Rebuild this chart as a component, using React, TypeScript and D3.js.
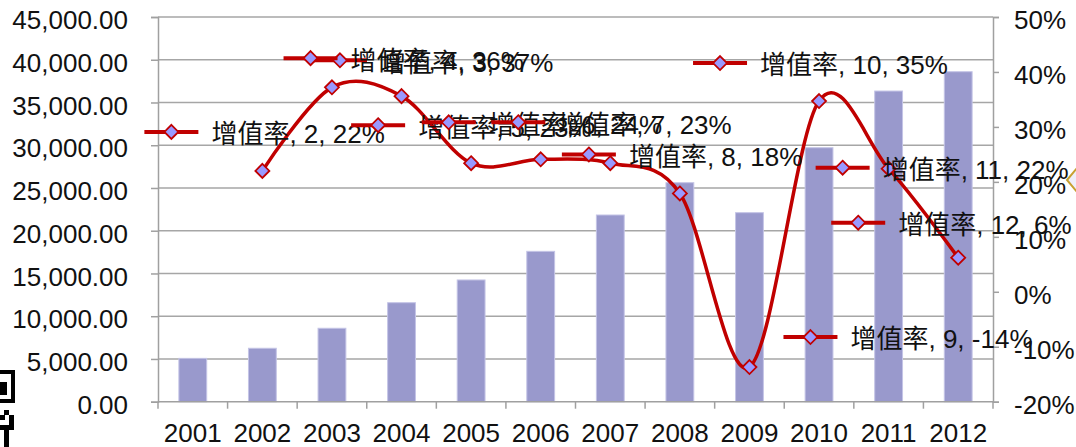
import { useEffect, useRef } from "react";
import * as d3 from "d3";

const years = ["2001", "2002", "2003", "2004", "2005", "2006", "2007", "2008", "2009", "2010", "2011", "2012"];
const outputValue = [5070, 6250, 8590, 11580, 14240, 17590, 21840, 25620, 22110, 29710, 36340, 38600];
const growthRate: (number | null)[] = [null, 22.0, 37.2, 35.6, 23.4, 24.1, 23.4, 17.9, -13.7, 34.7, 22.4, 6.2];
const leftTicks = [0, 5000, 10000, 15000, 20000, 25000, 30000, 35000, 40000, 45000];
const rightTicks = [-20, -10, 0, 10, 20, 30, 40, 50];
const seriesName = "增值率";

// where each data label was dragged to, relative to its point (px)
const labelOffsets: ({ dx: number; dy: number } | null)[] = [
  null,
  { dx: -91, dy: -39 },
  { dx: 8, dy: -27 },
  { dx: -91, dy: -38 },
  { dx: -93, dy: -38 },
  { dx: -92, dy: -37 },
  { dx: -92, dy: -41 },
  { dx: -91, dy: -39 },
  { dx: 61, dy: -30 },
  { dx: -99, dy: -38 },
  { dx: -46, dy: -1 },
  { dx: -100, dy: -35 }
];

const W = 1076;
const H = 447;
const FONT = "'Liberation Sans', Arial, 'Noto Sans CJK SC', sans-serif";
const RED = "#c00000";

export default function App() {
  const ref = useRef<SVGSVGElement | null>(null);

  useEffect(() => {
    if (!ref.current) return;
    const svg = d3.select(ref.current);
    svg.selectAll("*").remove();

    const left = 158, right = 993, top = 17, bottom = 401.7;

    const x = d3.scaleBand().domain(years).range([left, right]).paddingInner(0.6).paddingOuter(0.3);
    const step = x.step();
    const cx = (y: string) => (x(y) || 0) + x.bandwidth() / 2;
    const yL = d3.scaleLinear().domain([0, 45000]).range([bottom, top]);
    const yR = d3.scaleLinear().domain([-20, 50]).range([bottom, top]);

    // gridlines
    svg.append("g")
      .selectAll("line")
      .data(leftTicks.filter(t => t > 0))
      .enter()
      .append("line")
      .attr("x1", left)
      .attr("x2", right)
      .attr("y1", d => yL(d))
      .attr("y2", d => yL(d))
      .attr("stroke", "#a6a6a6")
      .attr("stroke-width", 1.4);

    // bars
    svg.append("g")
      .selectAll("rect")
      .data(outputValue)
      .enter()
      .append("rect")
      .attr("x", (d, i) => x(years[i]) || 0)
      .attr("y", d => yL(d))
      .attr("width", x.bandwidth())
      .attr("height", d => bottom - yL(d))
      .attr("fill", "#9999cc")
      .attr("stroke", "#c4c4e6")
      .attr("stroke-width", 1);

    // left axis
    const gl = svg.append("g")
      .attr("transform", `translate(${left},0)`)
      .call(d3.axisLeft(yL).tickValues(leftTicks).tickSize(7).tickPadding(23)
        .tickFormat(d => d3.format(",.2f")(d as number)));
    gl.select(".domain").attr("stroke", "#a0a0a0").attr("stroke-width", 1.5);
    gl.selectAll(".tick line").attr("stroke", "#a0a0a0").attr("stroke-width", 1.5);
    gl.selectAll(".tick text")
      .attr("font-family", FONT).attr("font-size", 26).attr("fill", "#111")
      .attr("dy", "0.45em");

    // right axis
    const gr = svg.append("g")
      .attr("transform", `translate(${right},0)`)
      .call(d3.axisRight(yR).tickValues(rightTicks).tickSize(6).tickPadding(15)
        .tickFormat(d => `${d}%`));
    gr.select(".domain").attr("stroke", "#a0a0a0").attr("stroke-width", 1.5);
    gr.selectAll(".tick line").attr("stroke", "#a0a0a0").attr("stroke-width", 1.5);
    gr.selectAll(".tick text")
      .attr("font-family", FONT).attr("font-size", 26).attr("fill", "#111")
      .attr("dy", "0.45em");

    // bottom axis
    svg.append("line")
      .attr("x1", left).attr("x2", right)
      .attr("y1", bottom).attr("y2", bottom)
      .attr("stroke", "#a0a0a0").attr("stroke-width", 1.5);
    svg.append("g")
      .selectAll("line")
      .data(d3.range(years.length + 1))
      .enter()
      .append("line")
      .attr("x1", i => left + i * step)
      .attr("x2", i => left + i * step)
      .attr("y1", bottom)
      .attr("y2", bottom + 7)
      .attr("stroke", "#a0a0a0")
      .attr("stroke-width", 1.5);
    svg.append("g")
      .selectAll("text")
      .data(years)
      .enter()
      .append("text")
      .attr("x", d => cx(d))
      .attr("y", 442)
      .attr("text-anchor", "middle")
      .attr("font-family", FONT)
      .attr("font-size", 26)
      .attr("fill", "#111")
      .text(d => d);

    // growth rate line
    const pts = growthRate
      .map((v, i) => ({ v, i }))
      .filter(p => p.v !== null) as { v: number; i: number }[];
    const line = d3.line<{ v: number; i: number }>()
      .x(p => cx(years[p.i]))
      .y(p => yR(p.v))
      .curve(d3.curveCardinal.tension(0));
    svg.append("path")
      .datum(pts)
      .attr("d", line)
      .attr("fill", "none")
      .attr("stroke", RED)
      .attr("stroke-width", 3.5);

    const diamond = "M0,-7L7,0L0,7L-7,0Z";
    svg.append("g")
      .selectAll("path")
      .data(pts)
      .enter()
      .append("path")
      .attr("d", diamond)
      .attr("transform", p => `translate(${cx(years[p.i])},${yR(p.v)})`)
      .attr("fill", "#9999ff")
      .attr("stroke", RED)
      .attr("stroke-width", 1.8);

    // data labels with legend key
    const labels = svg.append("g");
    pts.forEach(p => {
      const off = labelOffsets[p.i];
      if (!off) return;
      const kx = cx(years[p.i]) + off.dx;
      const ky = yR(p.v) + off.dy;
      const g = labels.append("g").attr("transform", `translate(${kx},${ky})`);
      g.append("line")
        .attr("x1", -27).attr("x2", 27)
        .attr("y1", 0).attr("y2", 0)
        .attr("stroke", RED).attr("stroke-width", 4);
      g.append("path")
        .attr("d", diamond)
        .attr("fill", "#9999ff")
        .attr("stroke", RED)
        .attr("stroke-width", 1.8);
      g.append("text")
        .attr("x", 40)
        .attr("y", 2)
        .attr("dy", "0.36em")
        .attr("font-family", FONT)
        .attr("font-size", 26)
        .attr("fill", "#111")
        .text(`${seriesName}, ${p.i + 1}, ${Math.round(p.v)}%`);
    });

    // selection handle at right edge
    svg.append("path")
      .attr("d", "M1077,168L1067,180L1077,192")
      .attr("fill", "#eeeefa")
      .attr("stroke", "#c8a030")
      .attr("stroke-width", 2);

    // scrap of a QR code in the bottom-left corner
    const qr = svg.append("g").attr("fill", "#000");
    qr.append("path")
      .attr("d", "M-10,370H15V403H-10ZM-10,374V399H11V374Z")
      .attr("fill-rule", "evenodd");
    qr.append("rect").attr("x", 0).attr("y", 382).attr("width", 7).attr("height", 13);
    qr.append("rect").attr("x", 4).attr("y", 410).attr("width", 5).attr("height", 5);
    qr.append("rect").attr("x", 0).attr("y", 415).attr("width", 5).attr("height", 5);
    qr.append("rect").attr("x", 9).attr("y", 415).attr("width", 5).attr("height", 10);
    qr.append("rect").attr("x", 0).attr("y", 425).attr("width", 14).attr("height", 5);
    qr.append("rect").attr("x", 4).attr("y", 430).attr("width", 5).attr("height", 17);
  }, []);

  return (
    <div style={{ position: "absolute", left: 0, top: 0, width: W, height: H, background: "#fff" }}>
      <svg ref={ref} width={W} height={H} style={{ display: "block" }} />
    </div>
  );
}
